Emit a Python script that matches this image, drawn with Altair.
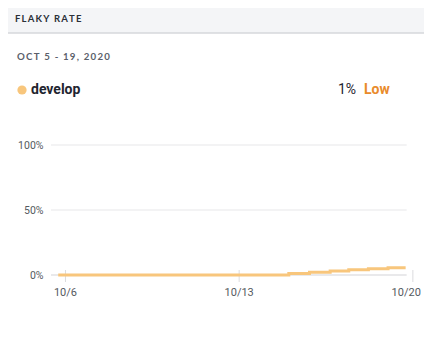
import altair as alt
import pandas as pd

# ---- data ----
dates = ["2020-10-05T17:00", "2020-10-15T00:00", "2020-10-15T20:00", "2020-10-16T16:00",
         "2020-10-17T10:00", "2020-10-18T05:00", "2020-10-19T00:00", "2020-10-19T17:00"]
rates = [0, 1.2, 2.1, 3.0, 4.0, 4.8, 5.6, 5.6]
y_ticks = [0, 50, 100]
x_tick_days = [6, 13, 20]
x_tick_labels = ["10/6", "10/13", "10/20"]
grid_start = "2020-10-05T10:00"
grid_end = "2020-10-19T18:00"

title = "FLAKY RATE"
subtitle = "OCT 5 - 19, 2020"
series = "develop"
current = "1%"
level = "Low"

LINE = "#f8c67c"
LABEL = "#555a60"

df = pd.DataFrame({"date": dates, "rate": rates})
grid_df = pd.DataFrame({"y": y_ticks, "x0": [grid_start] * 3, "x1": [grid_end] * 3})
tick_df = pd.DataFrame({"d": [f"2020-10-{d:02d}T00:00" for d in x_tick_days],
                        "label": x_tick_labels})

xscale = alt.Scale(domain=[alt.DateTime(year=2020, month=10, date=5, hours=10),
                           alt.DateTime(year=2020, month=10, date=20, hours=4)])
yscale = alt.Scale(domain=[0, 100])

yaxis = alt.Axis(values=y_ticks, labelExpr="datum.value + '%'", ticks=False,
                 domain=False, grid=False, labelPadding=8, labelFontSize=10.5,
                 labelColor=LABEL, labelFont="Roboto", title=None)

grid = alt.Chart(grid_df).mark_rule(strokeWidth=1.5).encode(
    x=alt.X("x0:T", scale=xscale, axis=None),
    x2="x1:T",
    y=alt.Y("y:Q", scale=yscale, axis=yaxis),
    color=alt.condition("datum.y == 0", alt.value("#e2e2e4"), alt.value("#efeff1")),
)

ticks = alt.Chart(tick_df).mark_rule(color="#dcdcde", strokeWidth=1).encode(
    x=alt.X("d:T", scale=xscale),
    y=alt.value(125), y2=alt.value(137),
)

xlab_inner = alt.Chart(tick_df.iloc[:2]).mark_text(
    align="center", baseline="middle", fontSize=11, font="Roboto", color=LABEL).encode(
    x=alt.X("d:T", scale=xscale), y=alt.value(148), text="label:N")
xlab_last = alt.Chart(tick_df.iloc[2:]).mark_text(
    align="right", baseline="middle", fontSize=11, font="Roboto", color=LABEL, dx=8).encode(
    x=alt.X("d:T", scale=xscale), y=alt.value(148), text="label:N")

line = alt.Chart(df).mark_line(color=LINE, strokeWidth=3, interpolate="step-after").encode(
    x=alt.X("date:T", scale=xscale),
    y=alt.Y("rate:Q", scale=yscale),
)

one = pd.DataFrame({"k": [0]})

header_bg = alt.Chart(one).mark_rect(color="#f4f5f7").encode(
    x=alt.value(-43), x2=alt.value(373), y=alt.value(-137), y2=alt.value(-112))
header_line = alt.Chart(one).mark_rule(color="#d6d7db", strokeWidth=1.5).encode(
    x=alt.value(-43), x2=alt.value(373), y=alt.value(-112))

def spaced(s):
    return "\u2009".join(s)

def txt(s, x, y, size, color, weight="bold", font="Lato"):
    return alt.Chart(one).mark_text(text=s, align="left", baseline="middle", fontSize=size,
                                    fontWeight=weight, color=color, font=font).encode(
        x=alt.value(x), y=alt.value(y))

t_title = txt(spaced(title), -36, -126, 9.5, "#2a2f38")
t_sub = txt(spaced(subtitle), -34, -88, 9.7, "#5b5f6b")
dot = alt.Chart(one).mark_circle(color=LINE, opacity=1, size=85).encode(
    x=alt.value(-29), y=alt.value(-55))
t_series = txt(series, -20, -55, 14, "#1f2530", font="Roboto")
t_cur = txt(current, 287, -55, 14, "#1f2530", weight="normal", font="Roboto")
t_lvl = txt(level, 313, -55, 14, "#e98b2b", weight="bold", font="Roboto")

chart = alt.layer(header_bg, header_line, grid, ticks, line, xlab_inner, xlab_last,
                  t_title, t_sub, dot, t_series, t_cur, t_lvl).properties(
    width=366, height=130,
    padding={"left": 43, "top": 137, "right": 7, "bottom": 75},
    autosize=alt.AutoSizeParams(type="none"),
    background="white",
).configure_view(stroke=None)

chart.save("out.html", embed_options={"renderer": "svg", "actions": False})
